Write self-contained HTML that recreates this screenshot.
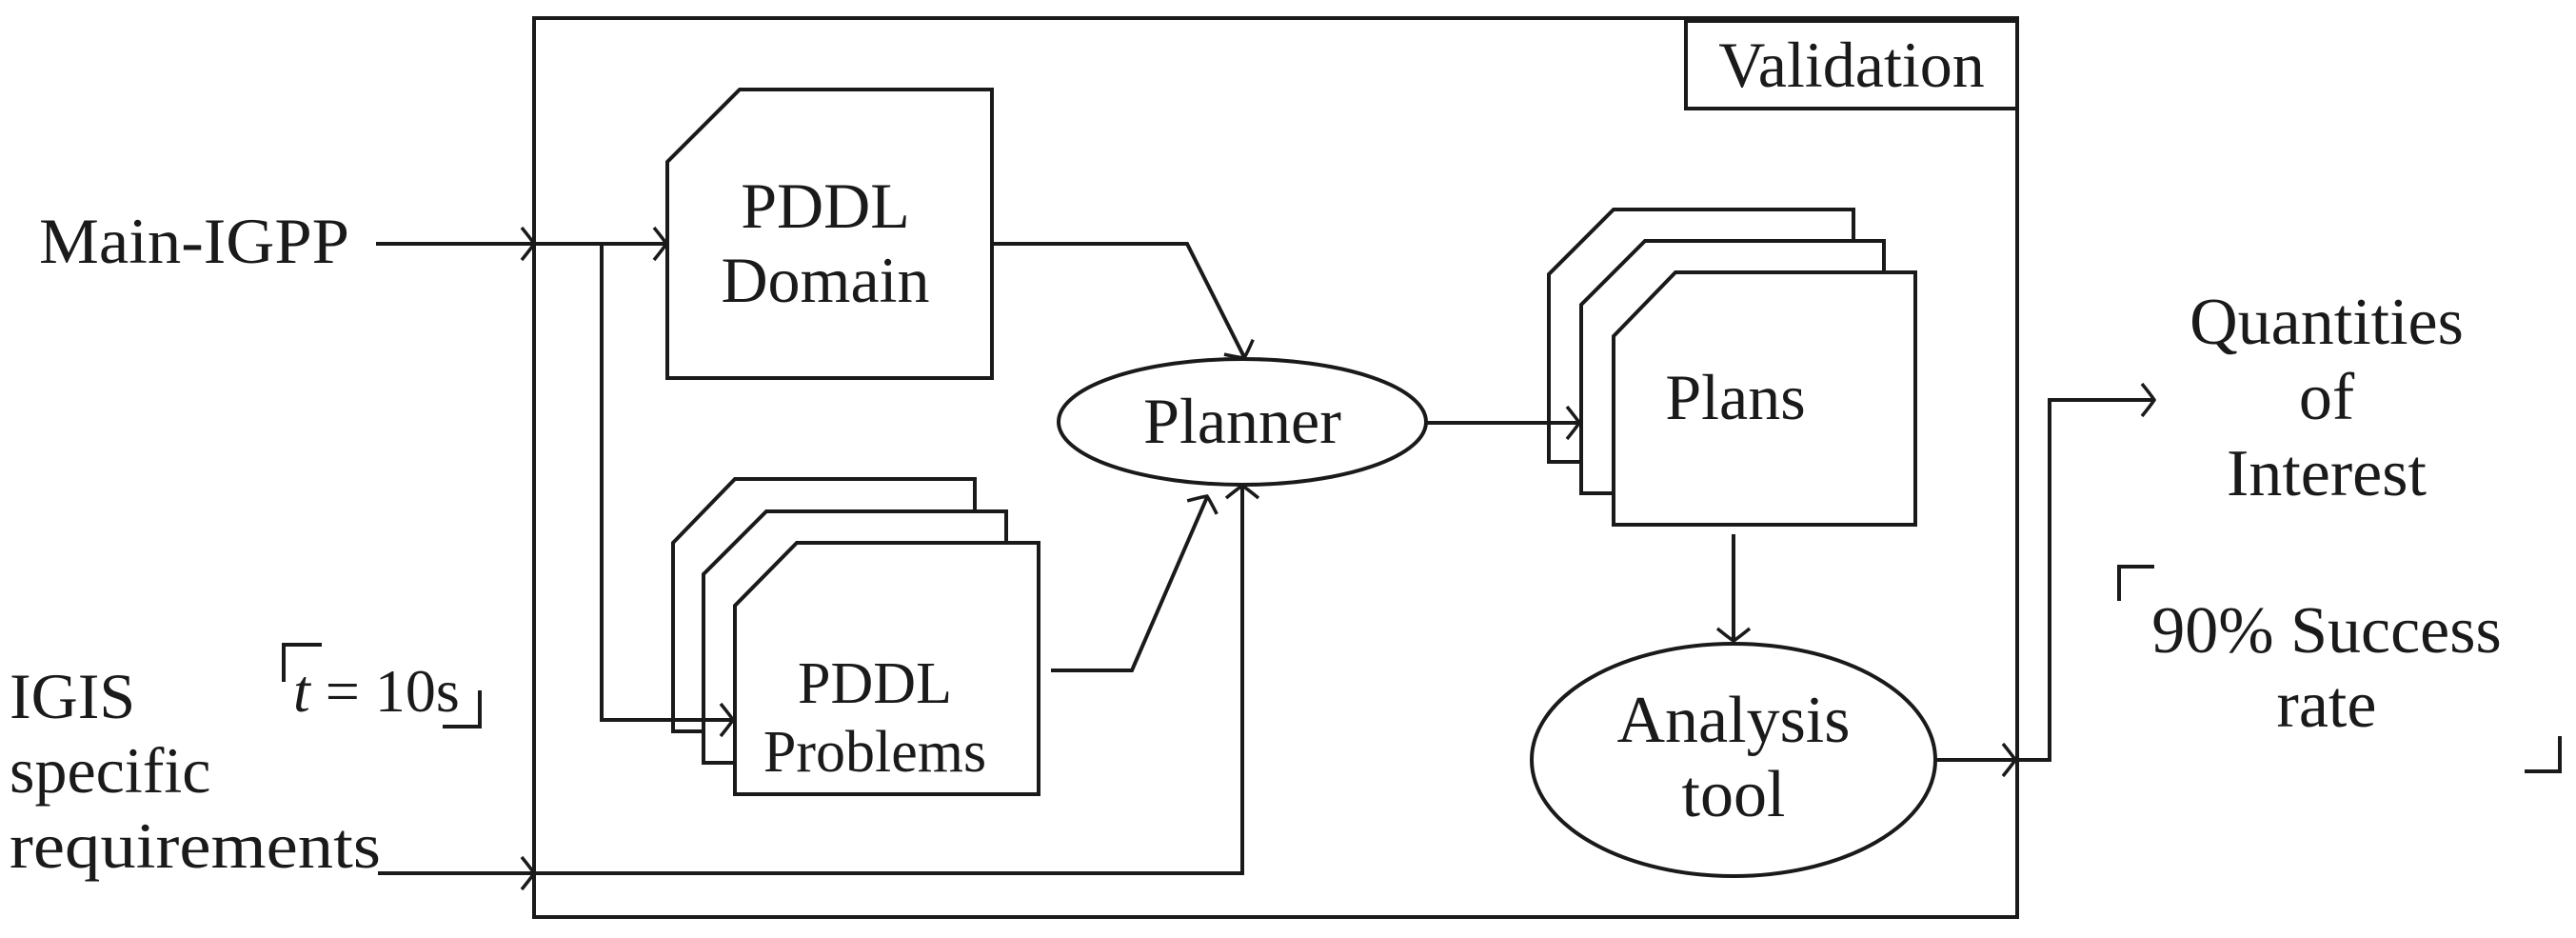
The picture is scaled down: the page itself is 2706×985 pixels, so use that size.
<!DOCTYPE html>
<html><head><meta charset="utf-8"><style>
html,body{margin:0;padding:0;background:#fff;}
svg{display:block;}
text{font-family:"Liberation Serif",serif;fill:#1a1a1a;}
</style></head><body>
<svg width="2706" height="985" viewBox="0 0 2706 985" xmlns="http://www.w3.org/2000/svg">
<defs>
<path id="ah" d="M -13 -17 Q -4 -6 0 0 Q -4 6 -13 17" fill="none" stroke="#1a1a1a" stroke-width="3.5"/>
</defs>
<g fill="none" stroke="#1a1a1a" stroke-width="4" stroke-linejoin="miter">
<rect x="561" y="19" width="1558" height="944"/>
<rect x="1771" y="22" width="348" height="92"/>
<path d="M777 94 H1042 V397 H701 V170 Z" fill="#fff"/>
<path d="M772 503 H1024 V768 H707 V570 Z" fill="#fff"/>
<path d="M805 537 H1057 V801 H739 V603 Z" fill="#fff"/>
<path d="M837 570 H1091 V834 H772 V636 Z" fill="#fff"/>
<path d="M1695 220 H1947 V485 H1627 V288 Z" fill="#fff"/>
<path d="M1728 253 H1979 V518 H1661 V320 Z" fill="#fff"/>
<path d="M1760 286 H2012 V551 H1695 V353 Z" fill="#fff"/>
<ellipse cx="1305" cy="443" rx="193" ry="66"/>
<ellipse cx="1821" cy="798" rx="212" ry="122"/>
<path d="M395 256 H700"/>
<path d="M632 256 V756 H770"/>
<path d="M1042 256 H1247 L1307 375"/>
<path d="M1104 704 H1189 L1268 522"/>
<path d="M397 917 H1305 V511"/>
<path d="M1498 444 H1659"/>
<path d="M1821 561 V673"/>
<path d="M2033 798 H2153 V420 H2263"/>
<path d="M298 716 V677 H338"/>
<path d="M465 763 H504 V725"/>
<path d="M2226 631 V595 H2263"/>
<path d="M2652 810 H2689 V773"/>
</g>
<use href="#ah" transform="translate(561,256)"/>
<use href="#ah" transform="translate(700,256)"/>
<use href="#ah" transform="translate(770,756)"/>
<use href="#ah" transform="translate(561,917)"/>
<use href="#ah" transform="translate(1307,376) rotate(63)"/>
<use href="#ah" transform="translate(1268,521) rotate(-66)"/>
<use href="#ah" transform="translate(1305,510) rotate(-90)"/>
<use href="#ah" transform="translate(1659,444)"/>
<use href="#ah" transform="translate(1821,673) rotate(90)"/>
<use href="#ah" transform="translate(2117,798)"/>
<use href="#ah" transform="translate(2263,420)"/>
<text x="1945" y="91" font-size="68" text-anchor="middle">Validation</text>
<text x="41" y="276" font-size="68" textLength="326" lengthAdjust="spacingAndGlyphs">Main-IGPP</text>
<text x="10" y="754" font-size="68">IGIS</text>
<text x="10" y="832" font-size="68">specific</text>
<text x="10" y="911" font-size="68" textLength="390" lengthAdjust="spacingAndGlyphs">requirements</text>
<text x="308" y="747" font-size="64"><tspan font-style="italic">t</tspan> = 10s</text>
<text x="867" y="239" font-size="68" text-anchor="middle">PDDL</text>
<text x="867" y="317" font-size="68" text-anchor="middle">Domain</text>
<text x="919" y="738" font-size="62" text-anchor="middle">PDDL</text>
<text x="919" y="810" font-size="62" text-anchor="middle">Problems</text>
<text x="1305" y="465" font-size="68" text-anchor="middle">Planner</text>
<text x="1823" y="440" font-size="68" text-anchor="middle">Plans</text>
<text x="1821" y="779" font-size="70" text-anchor="middle">Analysis</text>
<text x="1821" y="857" font-size="70" text-anchor="middle">tool</text>
<text x="2444" y="361" font-size="70" text-anchor="middle">Quantities</text>
<text x="2444" y="440" font-size="70" text-anchor="middle">of</text>
<text x="2444" y="520" font-size="70" text-anchor="middle">Interest</text>
<text x="2444" y="685" font-size="70" text-anchor="middle">90% Success</text>
<text x="2444" y="763" font-size="70" text-anchor="middle">rate</text>
</svg>
</body></html>
